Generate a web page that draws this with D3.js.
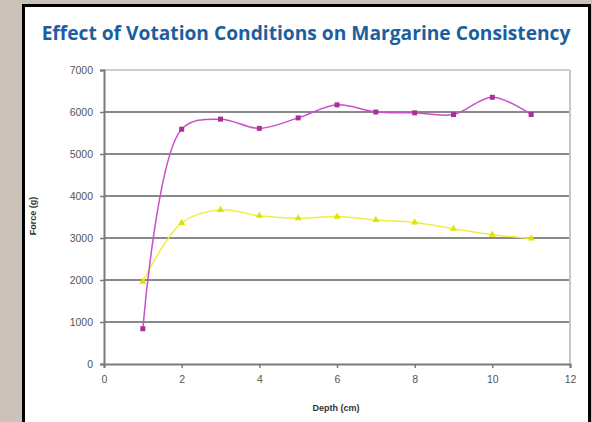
<!DOCTYPE html>
<html>
<head>
<meta charset="utf-8">
<script src="https://cdn.jsdelivr.net/npm/d3@7"></script>
<style>
  html, body { margin: 0; padding: 0; background: #cbc3b9; }
  svg { display: block; }
</style>
</head>
<body>
<svg id="chart" width="592" height="422"></svg>
<script>
// chart data
const depth = [1, 2, 3, 4, 5, 6, 7, 8, 9, 10, 11]
const forceA = [840, 5590, 5830, 5610, 5860, 6170, 6000, 5980, 5940, 6350, 5940]
const forceB = [1960, 3360, 3670, 3530, 3470, 3510, 3430, 3370, 3220, 3080, 2990]
const xTicks = [0, 2, 4, 6, 8, 10, 12]
const yTicks = [0, 1000, 2000, 3000, 4000, 5000, 6000, 7000]

const TITLE = "Effect of Votation Conditions on Margarine Consistency"
const COLOR_A_LINE = "#c850c8"
const COLOR_A_DOT = "#a8309a"
const COLOR_B_LINE = "#eeee44"
const COLOR_B_DOT = "#e2e200"
const GRID = "#8a8a8a"

let svg = d3.select("#chart")

// white panel with black frame
svg.append("rect")
  .attr("x", 23.5).attr("y", 5.5)
  .attr("width", 566).attr("height", 430)
  .attr("fill", "#fff")
  .attr("stroke", "#000")
  .attr("stroke-width", 3)

svg.append("text")
  .attr("x", 306).attr("y", 40)
  .attr("text-anchor", "middle")
  .attr("font-family", "Open Sans")
  .attr("font-weight", 700)
  .attr("font-size", 19.2)
  .attr("fill", "#1c5ea0")
  .text(TITLE)

let x = d3.scaleLinear().domain([0, 12]).range([104, 570])
let y = d3.scaleLinear().domain([0, 7000]).range([364, 70])

// grid lines
svg.append("g")
  .selectAll("line")
  .data(yTicks.filter(d => d > 0))
  .enter().append("line")
  .attr("x1", x(0)).attr("x2", x(12))
  .attr("y1", d => y(d)).attr("y2", d => y(d))
  .attr("stroke", d => d === 7000 ? "#cfcfcf" : GRID)
  .attr("stroke-width", 2)

// right border of plot area
svg.append("line")
  .attr("x1", x(12)).attr("x2", x(12))
  .attr("y1", y(7000)).attr("y2", y(0))
  .attr("stroke", "#c8c8c8").attr("stroke-width", 2)

let yAxis = svg.append("g")
  .attr("transform", "translate(" + x(0) + ",0)")
  .call(d3.axisLeft(y).tickValues(yTicks).tickSize(4).tickPadding(7).tickFormat(d3.format("d")))

let xAxis = svg.append("g")
  .attr("transform", "translate(0," + y(0) + ")")
  .call(d3.axisBottom(x).tickValues(xTicks).tickSize(4).tickPadding(8))

for (let ax of [yAxis, xAxis]) {
  ax.select(".domain").attr("stroke", "#7a7a7a").attr("stroke-width", 2)
  ax.selectAll(".tick line").attr("stroke", "#7a7a7a").attr("stroke-width", 1.5)
  ax.selectAll(".tick text")
    .attr("fill", "#555")
    .attr("font-family", "Liberation Sans")
    .attr("font-size", 10.5)
}

svg.append("text")
  .attr("transform", "translate(36,216) rotate(-90)")
  .attr("text-anchor", "middle")
  .attr("font-family", "Liberation Sans")
  .attr("font-weight", 700)
  .attr("font-size", 9)
  .attr("fill", "#333")
  .text("Force (g)")

svg.append("text")
  .attr("x", 336).attr("y", 411)
  .attr("text-anchor", "middle")
  .attr("font-family", "Liberation Sans")
  .attr("font-weight", 700)
  .attr("font-size", 9)
  .attr("fill", "#333")
  .text("Depth (cm)")

let line = d3.line()
  .x(d => x(d[0]))
  .y(d => y(d[1]))
  .curve(d3.curveCatmullRom.alpha(0.5))

let seriesA = depth.map((d, i) => [d, forceA[i]])
let seriesB = depth.map((d, i) => [d, forceB[i]])

svg.append("path")
  .datum(seriesB)
  .attr("d", line)
  .attr("fill", "none")
  .attr("stroke", COLOR_B_LINE)
  .attr("stroke-width", 1.5)

svg.append("path")
  .datum(seriesA)
  .attr("d", line)
  .attr("fill", "none")
  .attr("stroke", COLOR_A_LINE)
  .attr("stroke-width", 1.5)

let tri = d3.symbol().type(d3.symbolTriangle).size(22)
svg.append("g")
  .selectAll("path")
  .data(seriesB)
  .enter().append("path")
  .attr("d", tri)
  .attr("transform", d => "translate(" + x(d[0]) + "," + y(d[1]) + ")")
  .attr("fill", COLOR_B_DOT)

svg.append("g")
  .selectAll("rect")
  .data(seriesA)
  .enter().append("rect")
  .attr("x", d => x(d[0]) - 2.5)
  .attr("y", d => y(d[1]) - 2.5)
  .attr("width", 5).attr("height", 5)
  .attr("fill", COLOR_A_DOT)
</script>
</body>
</html>
